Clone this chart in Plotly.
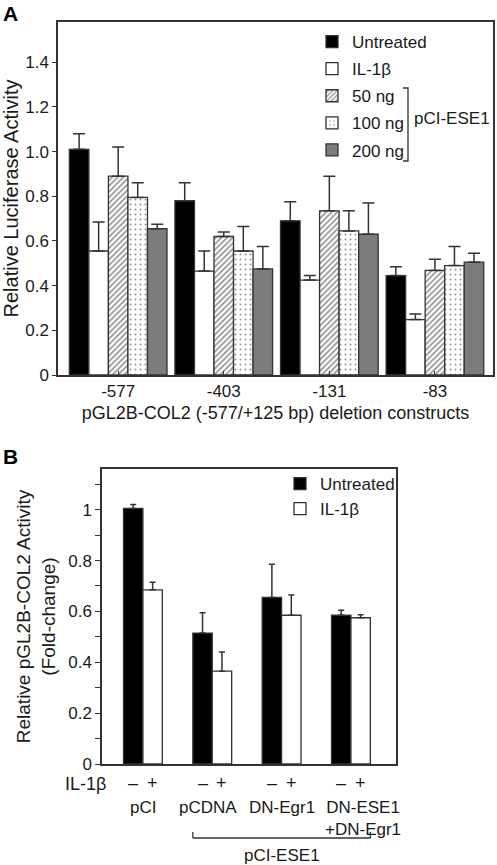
import plotly.graph_objects as go

W, H = 497, 865

# ---------------- Panel A data ----------------
constructs_A = ["-577", "-403", "-131", "-83"]
untreated_A = [1.01, 0.78, 0.69, 0.445]
il1b_A = [0.555, 0.465, 0.425, 0.248]
ng50_A = [0.89, 0.62, 0.735, 0.468]
ng100_A = [0.795, 0.555, 0.645, 0.49]
ng200_A = [0.655, 0.475, 0.63, 0.505]
untreated_err_A = [0.07, 0.08, 0.085, 0.04]
il1b_err_A = [0.13, 0.09, 0.02, 0.025]
ng50_err_A = [0.13, 0.02, 0.155, 0.05]
ng100_err_A = [0.065, 0.11, 0.09, 0.085]
ng200_err_A = [0.02, 0.1, 0.14, 0.04]
yticks_A = [0, 0.2, 0.4, 0.6, 0.8, 1.0, 1.2, 1.4]
yticktext_A = ["0", "0.2", "0.4", "0.6", "0.8", "1.0", "1.2", "1.4"]

# ---------------- Panel B data ----------------
constructs_B = ["pCI", "pCDNA", "DN-Egr1", "DN-ESE1<br>+DN-Egr1"]
untreated_B = [1.005, 0.515, 0.655, 0.585]
il1b_B = [0.685, 0.365, 0.585, 0.575]
untreated_err_B = [0.015, 0.08, 0.13, 0.02]
il1b_err_B = [0.03, 0.075, 0.08, 0.012]
yticks_B = [0, 0.2, 0.4, 0.6, 0.8, 1.0]
yticktext_B = ["0", "0.2", "0.4", "0.6", "0.8", "1"]
yminor_B = [0.1, 0.3, 0.5, 0.7, 0.9, 1.1]
il1b_signs = ["–", "+"]

FONT = "Liberation Sans, Arial, Helvetica, sans-serif"
LINE = "#333333"
TXT = "#1a1a1a"


def px_x(p):
    return p / W


def px_y(p):
    return 1 - p / H


fig = go.Figure()

# Panel A bars
wA = 0.185
xsA = list(range(len(constructs_A)))
seriesA = [
    ("Untreated", untreated_A, untreated_err_A, dict(color="#000000")),
    ("IL-1β", il1b_A, il1b_err_A, dict(color="#ffffff")),
    ("50 ng", ng50_A, ng50_err_A,
     dict(color="#ffffff", pattern=dict(shape="/", fgcolor="#222222", bgcolor="#ffffff", size=4, solidity=0.4))),
    ("100 ng", ng100_A, ng100_err_A,
     dict(color="#ffffff", pattern=dict(shape=".", fgcolor="#222222", bgcolor="#ffffff", size=5, solidity=0.12))),
    ("200 ng", ng200_A, ng200_err_A, dict(color="#7c7c7c")),
]
for i, (name, vals, errs, mk) in enumerate(seriesA):
    mk = dict(mk)
    mk["line"] = dict(color=LINE, width=1.3)
    fig.add_trace(go.Bar(
        x=xsA, y=vals, name=name, xaxis="x", yaxis="y",
        width=wA, offset=(i - 2.5) * wA,
        marker=mk, legend="legend", legendgroup=name,
        error_y=dict(type="data", array=errs, arrayminus=[0] * len(errs), symmetric=False,
                     color=LINE, thickness=1.5, width=6),
    ))

# Panel B bars
wB = 0.28
xsB = list(range(len(constructs_B)))
seriesB = [
    ("Untreated", untreated_B, untreated_err_B, "#000000"),
    ("IL-1β", il1b_B, il1b_err_B, "#ffffff"),
]
for i, (name, vals, errs, col) in enumerate(seriesB):
    fig.add_trace(go.Bar(
        x=xsB, y=vals, name=name, xaxis="x2", yaxis="y2",
        width=wB, offset=(i - 1) * wB,
        marker=dict(color=col, line=dict(color=LINE, width=1.3)),
        legend="legend2",
        error_y=dict(type="data", array=errs, arrayminus=[0] * len(errs), symmetric=False,
                     color=LINE, thickness=1.5, width=3),
    ))

axis_common = dict(showline=True, linecolor=LINE, linewidth=1.5, mirror=True,
                   showgrid=False, zeroline=False, automargin=False,
                   tickfont=dict(family=FONT, size=17, color=TXT))

fig.update_layout(
    width=W, height=H,
    margin=dict(l=0, r=0, t=0, b=0, autoexpand=False),
    paper_bgcolor="white", plot_bgcolor="white",
    barmode="overlay",
    font=dict(family=FONT, color=TXT),
    xaxis=dict(domain=[px_x(58), px_x(493)], range=[-0.57, 3.55], anchor="y",
               tickvals=xsA, ticktext=constructs_A, ticks="inside", ticklen=4,
               tickcolor=LINE, tickangle=0,
               title=dict(text="pGL2B-COL2 (-577/+125 bp) deletion constructs",
                          font=dict(family=FONT, size=18, color=TXT), standoff=6),
               **axis_common),
    yaxis=dict(domain=[px_y(375), px_y(22)], range=[0, 1.58], anchor="x",
               tickvals=yticks_A, ticktext=yticktext_A, ticks="outside", ticklen=4,
               tickcolor=LINE,
               title=dict(text="Relative Luciferase Activity",
                          font=dict(family=FONT, size=20, color=TXT), standoff=10),
               **axis_common),
    xaxis2=dict(domain=[px_x(102), px_x(396)], range=[-0.59, 3.65], anchor="y2",
                tickvals=xsB, showticklabels=False, ticks="",
                **axis_common),
    yaxis2=dict(domain=[px_y(764), px_y(469)], range=[0, 1.16], anchor="x2",
                tickvals=yticks_B, ticktext=yticktext_B, ticks="outside", ticklen=5,
                tickcolor=LINE,
                minor=dict(tickvals=yminor_B, ticks="outside", ticklen=5, tickcolor=LINE),
                title=dict(text="Relative pGL2B-COL2 Activity<br>(Fold-change)",
                           font=dict(family=FONT, size=19, color=TXT), standoff=8),
                **axis_common),
    legend=dict(x=px_x(312), y=px_y(24), xanchor="left", yanchor="top",
                bgcolor="rgba(0,0,0,0)", font=dict(family=FONT, size=17, color=TXT),
                traceorder="grouped", tracegroupgap=2, itemwidth=30),
    legend2=dict(x=px_x(280), y=px_y(466), xanchor="left", yanchor="top",
                 bgcolor="rgba(0,0,0,0)", font=dict(family=FONT, size=17, color=TXT),
                 itemwidth=30),
)

annotations = [
    dict(text="<b>A</b>", x=px_x(1), y=px_y(0), xref="paper", yref="paper",
         xanchor="left", yanchor="top", showarrow=False, font=dict(family=FONT, size=21, color="#000")),
    dict(text="<b>B</b>", x=px_x(1), y=px_y(443), xref="paper", yref="paper",
         xanchor="left", yanchor="top", showarrow=False, font=dict(family=FONT, size=21, color="#000")),
    dict(text="pCI-ESE1", x=px_x(412), y=px_y(118), xref="paper", yref="paper",
         xanchor="left", yanchor="middle", showarrow=False, font=dict(family=FONT, size=17, color=TXT)),
    dict(text="IL-1β", x=px_x(108), y=px_y(784), xref="paper", yref="paper",
         xanchor="right", yanchor="middle", showarrow=False, font=dict(family=FONT, size=18, color=TXT)),
    dict(text="pCI-ESE1", x=2.0, y=px_y(855), xref="x2", yref="paper",
         xanchor="center", yanchor="middle", showarrow=False, font=dict(family=FONT, size=17, color=TXT)),
]
for k in xsB:
    for j, s in enumerate(il1b_signs):
        annotations.append(dict(text=s, x=k + (j - 0.5) * wB, y=px_y(783), xref="x2", yref="paper",
                                xanchor="center", yanchor="middle", showarrow=False,
                                font=dict(family=FONT, size=18, color=TXT)))
label_shift_B = [0, -4, 0, 12]
for k, lab in enumerate(constructs_B):
    annotations.append(dict(text=lab, x=k, xshift=label_shift_B[k], y=px_y(796), xref="x2", yref="paper",
                            xanchor="center", yanchor="top", showarrow=False, align="center",
                            font=dict(family=FONT, size=17, color=TXT)))

shapes = [
    # legend bracket (panel A)
    dict(type="path", xref="paper", yref="paper",
         path=f"M {px_x(403)} {px_y(88)} L {px_x(408)} {px_y(88)} L {px_x(408)} {px_y(161)} L {px_x(403)} {px_y(161)}",
         line=dict(color=LINE, width=1.3)),
]
fig.update_layout(annotations=annotations, shapes=shapes)
# bracket under panel B (x in data units of x2, y in paper)
fig.add_shape(type="line", xref="x2", yref="paper", x0=1 - wB, x1=3 + wB, y0=px_y(838), y1=px_y(838),
              line=dict(color=LINE, width=1.3))
fig.add_shape(type="line", xref="x2", yref="paper", x0=1 - wB, x1=1 - wB, y0=px_y(838), y1=px_y(832),
              line=dict(color=LINE, width=1.3))
fig.add_shape(type="line", xref="x2", yref="paper", x0=3 + wB, x1=3 + wB, y0=px_y(838), y1=px_y(832),
              line=dict(color=LINE, width=1.3))

fig.write_html("out.html", config={"displayModeBar": False},
               post_script="document.body.style.margin='0';document.body.style.overflow='hidden';")
